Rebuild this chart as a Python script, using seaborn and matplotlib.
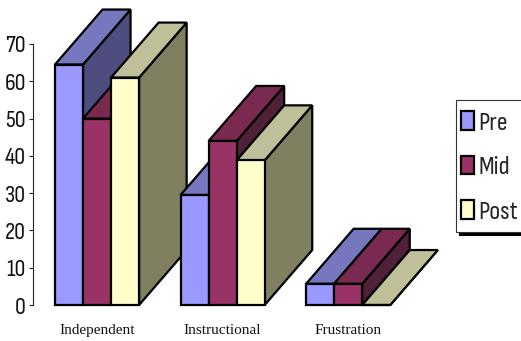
import matplotlib
matplotlib.use("Agg")
import matplotlib.pyplot as plt
from matplotlib.patches import Patch, Polygon, Rectangle
import pandas as pd
import seaborn as sns

categories = ["Independent", "Instructional", "Frustration"]
series_names = ["Pre", "Mid", "Post"]
pre_values = [64.5, 29.5, 5.7]
mid_values = [50, 44, 5.7]
post_values = [61, 38.8, 0]

front_colors = ["#9999FF", "#993366", "#FFFFCC"]
top_colors = ["#7777BF", "#7A2950", "#BFBF99"]
side_colors = ["#4D4D80", "#4F2038", "#808060"]

W, H = 521, 341
LEFT, RIGHT, BASE, TOP = 33, 411, 305, 44
EDGE = 1.6
NARROW = ["Sofia Sans Condensed", "Liberation Sans"]

table = pd.DataFrame({
    "category": categories * 3,
    "series": [s for s in series_names for _ in categories],
    "value": pre_values + mid_values + post_values,
})

sns.set_style("white")
fig = plt.figure(figsize=(W / 100, H / 100), dpi=100, facecolor="white")
ax = fig.add_axes([LEFT / W, 1 - BASE / H, (RIGHT - LEFT) / W, (BASE - TOP) / H])
ax.patch.set_alpha(0)

sns.barplot(
    data=table, x="category", y="value", hue="series",
    hue_order=series_names, order=categories, palette=front_colors,
    width=0.67, gap=0, saturation=1, edgecolor="black", linewidth=EDGE,
    legend=False, ax=ax,
)

ax.set_xlim(-0.51, 2.5)
ax.set_ylim(0, 70)
ax.set_yticks(range(0, 71, 10))
ax.set_xlabel("")
ax.set_ylabel("")

# Oblique depth of the extruded columns, in data units
depth_x = 47.5 / 125.5
depth_y = 55 / 3.73

for s, container in enumerate(ax.containers):
    for g, bar in enumerate(container):
        x0, w, h = bar.get_x(), bar.get_width(), bar.get_height()
        x1 = x0 + w
        order = 10 * g + 3 * s
        bar.set_zorder(order + 2)
        bar.set_clip_on(False)
        side = [(x1, 0), (x1 + depth_x, depth_y), (x1 + depth_x, h + depth_y), (x1, h)]
        top = [(x0, h), (x1, h), (x1 + depth_x, h + depth_y), (x0 + depth_x, h + depth_y)]
        for pts, color, z in ((side, side_colors[s], order), (top, top_colors[s], order + 1)):
            ax.add_patch(Polygon(pts, closed=True, facecolor=color, edgecolor="black",
                                 linewidth=EDGE, joinstyle="miter", clip_on=False, zorder=z))

for name in ("top", "right", "bottom"):
    ax.spines[name].set_visible(False)
ax.spines["left"].set_color("#222222")
ax.spines["left"].set_linewidth(0.8)
ax.tick_params(axis="x", length=0, pad=14)
ax.tick_params(axis="y", left=True, length=3, width=0.8, color="#222222", pad=2)

for label in ax.get_yticklabels():
    label.set_fontfamily(NARROW)
    label.set_fontsize(17.5)
    label.set_color("#111111")
for label in ax.get_xticklabels():
    label.set_fontfamily("Liberation Serif")
    label.set_fontsize(11)
    label.set_color("#111111")

# Legend panel with its hard drop shadow, running off the right edge
fig.add_artist(Rectangle((459 / W, 1 - 236 / H), 70 / W, 10 / H, transform=fig.transFigure,
                         facecolor="black", edgecolor="none", zorder=90))
fig.add_artist(Rectangle((456 / W, 1 - 232 / H), 72 / W, 132 / H, transform=fig.transFigure,
                         facecolor="white", edgecolor="#333333", linewidth=0.8, zorder=91))

handles = [Patch(facecolor=c, edgecolor="black", linewidth=EDGE, label=n)
           for c, n in zip(front_colors, series_names)]
legend = fig.legend(
    handles=handles, loc="upper left",
    bbox_to_anchor=(461 / W, 1 - 111 / H), bbox_transform=fig.transFigure,
    borderaxespad=0, frameon=False, handlelength=0.5, handleheight=0.71,
    handletextpad=0.16, labelspacing=0.8, borderpad=0,
    prop={"family": NARROW, "size": 19},
)
legend.set_zorder(100)

fig.savefig("out.png", dpi=100, facecolor="white")
